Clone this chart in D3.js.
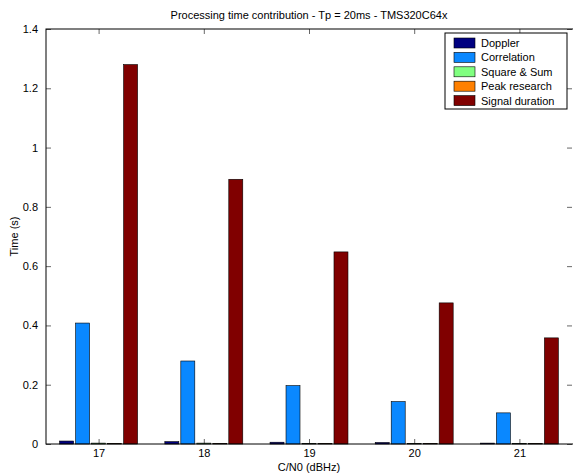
<!DOCTYPE html>
<html><head><meta charset="utf-8">
<script src="https://cdn.jsdelivr.net/npm/d3@7"></script>
<style>body{margin:0;background:#fff}svg{display:block}text{font-family:"Liberation Sans",Arial,sans-serif;fill:#000}</style>
</head><body><svg id="c" width="573" height="475"></svg>
<script>
const categories = [17, 18, 19, 20, 21];
const seriesNames = ["Doppler", "Correlation", "Square & Sum", "Peak research", "Signal duration"];
const doppler = [0.010, 0.008, 0.006, 0.005, 0.003];
const correlation = [0.408, 0.280, 0.197, 0.143, 0.105];
const squareSum = [0.003, 0.003, 0.002, 0.002, 0.002];
const peakResearch = [0.002, 0.002, 0.002, 0.002, 0.002];
const signalDuration = [1.280, 0.893, 0.648, 0.476, 0.358];
const colors = ["#000080", "#0a88ff", "#80ff80", "#ff8000", "#800000"];
const yTicks = [0, 0.2, 0.4, 0.6, 0.8, 1, 1.2, 1.4];
const yTickLabels = ["0", "0.2", "0.4", "0.6", "0.8", "1", "1.2", "1.4"];

const series = [doppler, correlation, squareSum, peakResearch, signalDuration];
const svg = d3.select("#c");
const L = 46, R = 572, T = 29, B = 444;
const x = d3.scaleLinear().domain([16.5, 21.5]).range([L, R]);
const y = d3.scaleLinear().domain([0, 1.4]).range([B, T]);
const step = 0.152, bw = 0.133;

const g = svg.append("g");
series.forEach((vals, si) => {
  g.selectAll(null).data(vals).enter().append("rect")
    .attr("x", (d, i) => x(categories[i] + (si - 2) * step - bw / 2))
    .attr("width", x(bw) - x(0))
    .attr("y", d => y(d))
    .attr("height", d => y(0) - y(d))
    .attr("fill", colors[si])
    .attr("stroke", "#000").attr("stroke-width", 0.6);
});

// axes with inward ticks
const xAxis = d3.axisBottom(x).tickValues(categories).tickSize(-5).tickPadding(5).tickFormat(d3.format("d"));
const yAxis = d3.axisLeft(y).tickValues(yTicks).tickSize(-5).tickPadding(8).tickFormat((d, i) => yTickLabels[i]);
const gx = svg.append("g").attr("transform", `translate(0,${B})`).call(xAxis);
const gy = svg.append("g").attr("transform", `translate(${L},0)`).call(yAxis);
[gx, gy].forEach(a => {
  a.select(".domain").remove();
  a.selectAll("line").attr("stroke", "#000").attr("stroke-width", 0.6);
  a.selectAll("text").style("font-size", "11px").attr("font-family", "Liberation Sans, Arial, sans-serif");
});
// top & right mirrored ticks
svg.append("g").attr("transform", `translate(0,${T})`).call(d3.axisTop(x).tickValues(categories).tickSize(-5).tickFormat(""))
  .call(a => { a.select(".domain").remove(); a.selectAll("line").attr("stroke", "#000").attr("stroke-width", 0.6); });
svg.append("g").attr("transform", `translate(${R},0)`).call(d3.axisRight(y).tickValues(yTicks).tickSize(-5).tickFormat(""))
  .call(a => { a.select(".domain").remove(); a.selectAll("line").attr("stroke", "#000").attr("stroke-width", 0.6); });

svg.append("rect").attr("x", L).attr("y", T).attr("width", R - L + 4).attr("height", B - T)
  .attr("fill", "none").attr("stroke", "#000").attr("stroke-width", 1);

svg.append("text").attr("x", (L + R) / 2).attr("y", 19).attr("text-anchor", "middle")
  .style("font-size", "11px").text("Processing time contribution - Tp = 20ms - TMS320C64x");
svg.append("text").attr("x", (L + R) / 2).attr("y", 471).attr("text-anchor", "middle")
  .style("font-size", "11px").text("C/N0 (dBHz)");
svg.append("text").attr("transform", `translate(18,${(T + B) / 2}) rotate(-90)`).attr("text-anchor", "middle")
  .style("font-size", "11px").text("Time (s)");

// legend
const lg = svg.append("g");
lg.append("rect").attr("x", 445).attr("y", 33).attr("width", 122).attr("height", 76)
  .attr("fill", "#fff").attr("stroke", "#000").attr("stroke-width", 1);
seriesNames.forEach((n, i) => {
  const cy = 43 + i * 14.4;
  lg.append("rect").attr("x", 454).attr("y", cy - 5).attr("width", 21).attr("height", 10)
    .attr("fill", colors[i]).attr("stroke", "#000").attr("stroke-width", 0.6);
  lg.append("text").attr("x", 481).attr("y", cy + 4).style("font-size", "11px").text(n);
});
</script></body></html>
